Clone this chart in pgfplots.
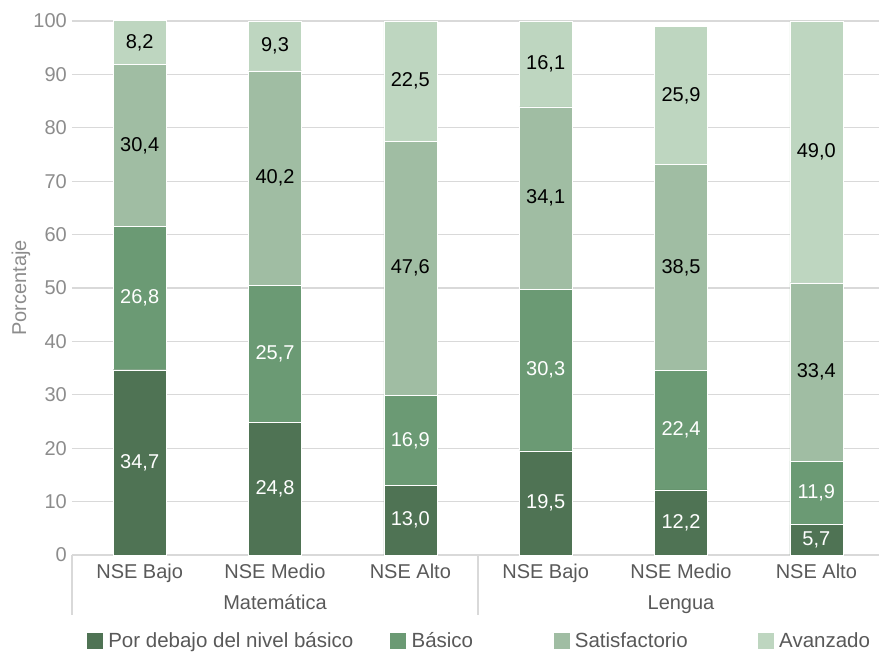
\documentclass[border=0pt]{standalone}
\usepackage{fontspec}
\setmainfont{Liberation Sans}
\usepackage{pgfplots}
\pgfplotsset{compat=1.18}
\usepackage{pgfplotstable}
\definecolor{c1}{HTML}{4F7354}
\definecolor{c2}{HTML}{6B9A74}
\definecolor{c3}{HTML}{A0BDA3}
\definecolor{c4}{HTML}{BED6C0}
\definecolor{gridc}{HTML}{D9D9D9}
\definecolor{ytc}{HTML}{8C8C8C}
\definecolor{xtc}{HTML}{595959}
\newcommand{\cf}{\fontsize{20bp}{24bp}\selectfont}
\newcommand{\lf}{\fontsize{20.5bp}{24bp}\selectfont}
\pgfplotsset{myleg/.style={legend image code/.code={\fill[##1] (0bp,-8.5bp) rectangle (17bp,8.5bp); \path (22bp,0);}}}

\pgfplotstableread{
x a b c d
0 34.7 26.8 30.4 8.2
1 24.8 25.7 40.2 9.3
2 13.0 16.9 47.6 22.5
3 19.5 30.3 34.1 16.1
4 12.2 22.4 38.5 25.9
5 5.7 11.9 33.4 49.0
}\data

\pgfplotstableread{
x y lab
0 17.35 34,7
0 48.1 26,8
1 12.4 24,8
1 37.65 25,7
2 6.5 13,0
2 21.45 16,9
3 9.75 19,5
3 34.65 30,3
4 6.1 12,2
4 23.4 22,4
5 2.85 5,7
5 11.65 11,9
}\labw

\pgfplotstableread{
x y lab
0 76.7 30,4
0 95.95 8,2
1 70.6 40,2
1 95.35 9,3
2 53.7 47,6
2 88.75 22,5
3 66.85 34,1
3 91.95 16,1
4 53.85 38,5
4 86.05 25,9
5 34.3 33,4
5 75.5 49,0
}\labb

\begin{document}
\begin{tikzpicture}
\pgfplotsset{base/.style={width=812bp, height=534bp, scale only axis,
  at={(0,0)}, anchor=south west, xmin=-0.5, xmax=5.5, ymin=0, ymax=100}}
\begin{axis}[base, ybar stacked, bar width=53bp,
  axis x line*=bottom, axis y line*=left,
  x axis line style={gridc, line width=1.2bp},
  y axis line style={draw=none},
  ymajorgrids, grid style={gridc, line width=1.2bp},
  major tick length=0pt,
  ytick={0,10,...,100},
  xtick={0,...,5},
  xticklabels={NSE Bajo, NSE Medio, NSE Alto, NSE Bajo, NSE Medio, NSE Alto},
  /pgf/number format/assume math mode=true,
  yticklabel style={font=\cf, text=ytc, anchor=east, inner sep=0pt, xshift=-5bp},
  xticklabel style={font=\cf, text=xtc, anchor=north, inner sep=0pt, yshift=-9bp},
  ylabel={Porcentaje},
  ylabel style={font=\cf, text=ytc, at={([xshift=-51bp]axis description cs:0,0.5)}, anchor=center},
  legend columns=4,
  legend cell align=left,
  legend style={draw=none, inner sep=0pt, outer sep=0pt, font=\lf, text=xtc,
    at={(0.01724,-0.161)}, anchor=west, nodes={inner sep=0pt}},
  clip=false,
]
\addplot[fill=c1, draw=white, line width=0.3bp, myleg] table[x=x,y=a]{\data};
\addplot[fill=c2, draw=white, line width=0.3bp, myleg] table[x=x,y=b]{\data};
\addplot[fill=c3, draw=white, line width=0.3bp, myleg] table[x=x,y=c]{\data};
\addplot[fill=c4, draw=white, line width=0.3bp, myleg] table[x=x,y=d]{\data};
\legend{\makebox[281bp][l]{Por debajo del nivel básico}, \makebox[141bp][l]{Básico}, \makebox[182bp][l]{Satisfactorio}, Avanzado}
\draw[gridc, line width=1.2bp] (axis cs:-0.5,0) -- ([yshift=-60bp]axis cs:-0.5,0);
\draw[gridc, line width=1.2bp] (axis cs:2.5,0) -- ([yshift=-60bp]axis cs:2.5,0);
\draw[gridc, line width=1.2bp] (axis cs:5.5,0) -- ([yshift=-60bp]axis cs:5.5,0);
\node[font=\cf, text=xtc, anchor=base] at ([yshift=-54bp]axis cs:1,0) {Matemática};
\node[font=\cf, text=xtc, anchor=base] at ([yshift=-54bp]axis cs:4,0) {Lengua};
\end{axis}
\begin{axis}[base, hide axis, clip=false]
\addplot[draw=none, mark=none, nodes near coords, point meta=explicit symbolic,
  nodes near coords style={anchor=center, text=white, font=\cf, inner sep=0pt}] table[x=x,y=y,meta=lab]{\labw};
\addplot[draw=none, mark=none, nodes near coords, point meta=explicit symbolic,
  nodes near coords style={anchor=center, text=black, font=\cf, inner sep=0pt}] table[x=x,y=y,meta=lab]{\labb};
\end{axis}
\pgfresetboundingbox
\path (-72bp,-97bp) rectangle (807bp,555bp);
\end{tikzpicture}
\end{document}
